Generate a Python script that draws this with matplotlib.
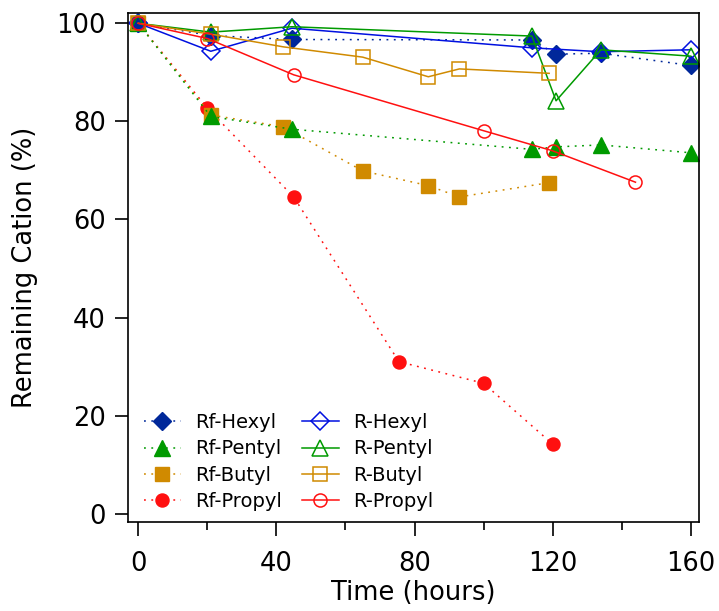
import matplotlib
matplotlib.use("Agg")
import matplotlib.pyplot as plt
from matplotlib.ticker import MultipleLocator

# Remaining cation (%) vs time (hours)
t_hexyl = [0, 21, 44.5, 114, 121, 134, 160]
rf_hexyl = [100, 97.5, 96.7, 96.6, 93.7, 93.9, 91.4]
t_r_hexyl = [0, 21, 44.5, 114, 134, 160]
r_hexyl = [100, 94.3, 99.0, 95.0, 94.2, 94.6]

t_pentyl = [0, 21, 44.5, 114, 121, 134, 160]
rf_pentyl = [100, 81.0, 78.4, 74.3, 74.8, 75.2, 73.6]
r_pentyl = [100, 98.2, 99.3, 97.4, 84.2, 94.6, 93.3]

t_butyl = [0, 21, 42, 65, 84, 93, 119]
rf_butyl = [100, 81.3, 78.9, 69.9, 66.9, 64.6, 67.5]
r_butyl = [100, 97.8, 95.2, 93.1, 89.1, 90.7, 89.8]

t_rf_propyl = [0, 20, 45, 75.5, 100, 120]
rf_propyl = [100, 82.7, 64.6, 31.0, 26.6, 14.2]
t_r_propyl = [0, 20, 45, 100, 120, 144]
r_propyl = [100, 96.9, 89.5, 78.1, 74.0, 67.6]

navy = "#00289A"
blue = "#0010E0"
green = "#009A00"
orange = "#D08A00"
red = "#FF1010"

dot = (0, (1.2, 3.6))
lw = 1.1

fig = plt.figure(figsize=(7.19, 6.11), dpi=100)
ax = fig.add_axes([128 / 719, 1 - 522.3 / 611, 571 / 719, 509 / 611])

# filled markers, dotted lines
h_rf_propyl, = ax.plot(t_rf_propyl, rf_propyl, ls=dot, lw=lw, color=red,
                       marker="o", ms=9.4, mfc=red, mec=red, label="Rf-Propyl")
h_rf_butyl, = ax.plot(t_butyl, rf_butyl, ls=dot, lw=lw, color=orange,
                      marker="s", ms=9.4, mfc=orange, mec=orange, label="Rf-Butyl")
h_rf_pentyl, = ax.plot(t_pentyl, rf_pentyl, ls=dot, lw=lw, color=green,
                       marker="^", ms=11, mfc=green, mec=green, label="Rf-Pentyl")
h_rf_hexyl, = ax.plot(t_hexyl, rf_hexyl, ls=dot, lw=lw, color=navy,
                      marker="D", ms=9.2, mfc=navy, mec=navy, label="Rf-Hexyl")

# open markers, solid lines
h_r_hexyl, = ax.plot(t_r_hexyl, r_hexyl, ls="-", lw=lw, color=blue,
                     marker="D", ms=9.2, mfc="none", mec=blue, mew=1.1, label="R-Hexyl")
h_r_pentyl, = ax.plot(t_pentyl, r_pentyl, ls="-", lw=lw, color=green,
                      marker="^", ms=11, mfc="none", mec=green, mew=1.1, label="R-Pentyl")
h_r_butyl, = ax.plot(t_butyl, r_butyl, ls="-", lw=lw, color=orange,
                     marker="s", ms=9.4, mfc="none", mec=orange, mew=1.1, label="R-Butyl")
h_r_propyl, = ax.plot(t_r_propyl, r_propyl, ls="-", lw=lw, color=red,
                      marker="o", ms=9.4, mfc="none", mec=red, mew=1.1, label="R-Propyl")

ax.set_xlim(-2.98, 162.4)
ax.set_ylim(-1.75, 102.04)

ax.xaxis.set_major_locator(MultipleLocator(40))
ax.xaxis.set_minor_locator(MultipleLocator(20))
ax.yaxis.set_major_locator(MultipleLocator(20))

for s in ax.spines.values():
    s.set_linewidth(1.2)

ax.tick_params(axis="x", which="major", direction="out", length=10, width=1.2,
               labelsize=18.5, pad=11)
ax.tick_params(axis="x", which="minor", direction="out", length=5.8, width=1.2)
ax.tick_params(axis="y", which="major", direction="out", length=9.5, width=1.2,
               labelsize=18.5, pad=6.5)

ax.set_xlabel("Time (hours)", fontsize=18.5)
ax.set_ylabel("Remaining Cation (%)", fontsize=18.5)
ax.xaxis.set_label_coords(0.5, -0.114)
ax.yaxis.set_label_coords(-0.1576, 0.5)

handles = [h_rf_hexyl, h_rf_pentyl, h_rf_butyl, h_rf_propyl,
           h_r_hexyl, h_r_pentyl, h_r_butyl, h_r_propyl]
ax.legend(handles=handles, ncol=2, frameon=False, fontsize=14,
          loc="lower left", bbox_to_anchor=(0.028, 0.0228), borderpad=0,
          borderaxespad=0, handlelength=1.9, handletextpad=0.74,
          columnspacing=1.0, labelspacing=0.37, numpoints=1)

fig.savefig("out.png", dpi=100)
